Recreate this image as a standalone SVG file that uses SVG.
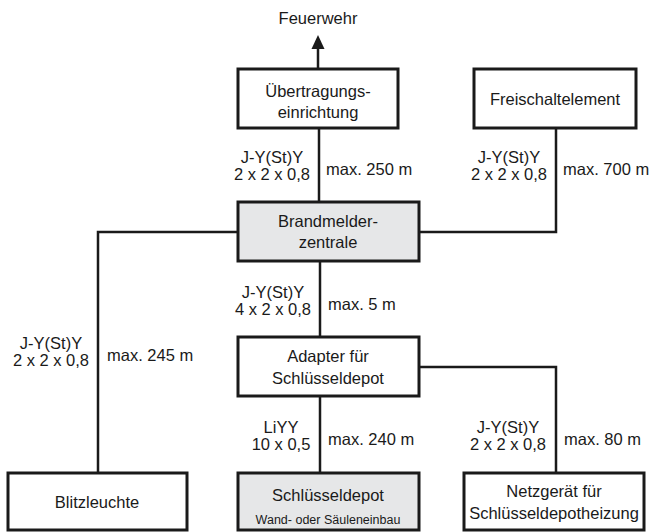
<svg xmlns="http://www.w3.org/2000/svg" width="651" height="532" viewBox="0 0 651 532">
<style>
.box{fill:#ffffff;stroke:#1a1a1a;stroke-width:3}
.gray{fill:#e6e7e8}
.t{font-family:"Liberation Sans",Arial,sans-serif;font-size:16.5px;fill:#1a1a1a;text-anchor:middle}
.l{font-family:"Liberation Sans",Arial,sans-serif;font-size:16.5px;fill:#1a1a1a}
.m{text-anchor:middle}
.s{font-size:12.5px}
.c{fill:none;stroke:#1a1a1a;stroke-width:2.5}
</style>
<rect width="651" height="532" fill="#ffffff"/>
<g id="connectors">
<line class="c" x1="318" y1="69" x2="318" y2="47"/>
<polygon points="318,35 311.5,49 324.5,49" fill="#1a1a1a"/>
<line class="c" x1="319" y1="128" x2="319" y2="202"/>
<polyline class="c" points="556,128 556,232 419,232"/>
<polyline class="c" points="238,232 98,232 98,473"/>
<line class="c" x1="320" y1="261" x2="320" y2="337"/>
<polyline class="c" points="419,367 556,367 556,473"/>
<line class="c" x1="320" y1="396" x2="320" y2="473"/>
</g>
<g id="labels">
<text class="l m" x="272" y="163">J-Y(St)Y</text>
<text class="l m" x="272" y="180">2 x 2 x 0,8</text>
<text class="l" x="326" y="175">max. 250 m</text>
<text class="l m" x="509" y="163">J-Y(St)Y</text>
<text class="l m" x="509" y="180">2 x 2 x 0,8</text>
<text class="l" x="563" y="175">max. 700 m</text>
<text class="l m" x="273" y="298">J-Y(St)Y</text>
<text class="l m" x="273" y="315">4 x 2 x 0,8</text>
<text class="l" x="328" y="310">max. 5 m</text>
<text class="l m" x="51" y="349">J-Y(St)Y</text>
<text class="l m" x="51" y="366">2 x 2 x 0,8</text>
<text class="l" x="107" y="361">max. 245 m</text>
<text class="l m" x="281" y="433">LiYY</text>
<text class="l m" x="281" y="450">10 x 0,5</text>
<text class="l" x="328" y="445">max. 240 m</text>
<text class="l m" x="508" y="433">J-Y(St)Y</text>
<text class="l m" x="508" y="450">2 x 2 x 0,8</text>
<text class="l" x="564" y="445">max. 80 m</text>
</g>
<g id="feuerwehr">
<text class="t" x="318" y="24">Feuerwehr</text>
</g>
<g id="uebertragungseinrichtung">
<rect class="box" x="238" y="69" width="160" height="59"/>
<text class="t" x="318" y="97">Übertragungs-</text>
<text class="t" x="318" y="118">einrichtung</text>
</g>
<g id="freischaltelement">
<rect class="box" x="474" y="69" width="162" height="59"/>
<text class="t" x="555" y="105">Freischaltelement</text>
</g>
<g id="brandmelderzentrale">
<rect class="box gray" x="238" y="202" width="181" height="59"/>
<text class="t" x="328" y="227">Brandmelder-</text>
<text class="t" x="328" y="248">zentrale</text>
</g>
<g id="adapter">
<rect class="box" x="238" y="337" width="181" height="59"/>
<text class="t" x="328" y="362">Adapter für</text>
<text class="t" x="328" y="384">Schlüsseldepot</text>
</g>
<g id="blitzleuchte">
<rect class="box" x="8" y="473" width="179" height="57"/>
<text class="t" x="97" y="508">Blitzleuchte</text>
</g>
<g id="schluesseldepot">
<rect class="box gray" x="238" y="473" width="181" height="57"/>
<text class="t" x="328" y="501">Schlüsseldepot</text>
<text class="t s" x="328" y="524">Wand- oder Säuleneinbau</text>
</g>
<g id="netzgeraet">
<rect class="box" x="464" y="473" width="180" height="57"/>
<text class="t" x="554" y="497">Netzgerät für</text>
<text class="t" x="554" y="519">Schlüsseldepotheizung</text>
</g>
</svg>
